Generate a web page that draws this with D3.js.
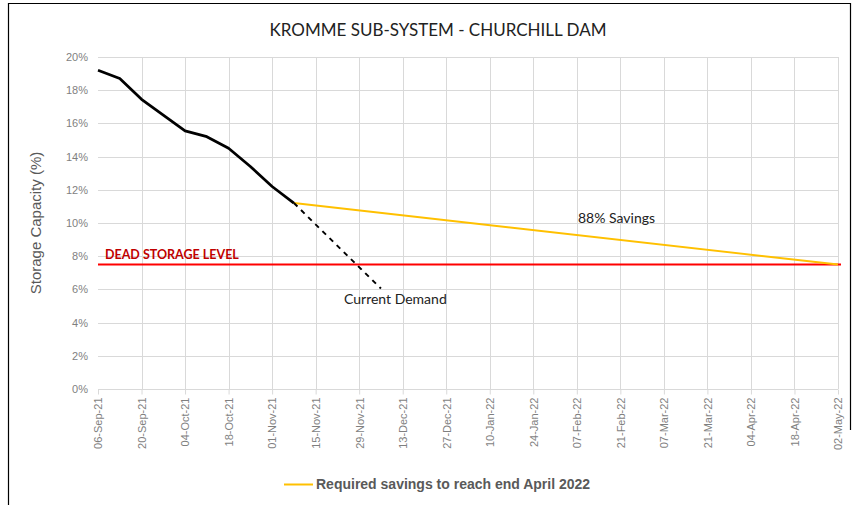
<!DOCTYPE html>
<html>
<head>
<meta charset="utf-8">
<script src="https://cdn.jsdelivr.net/npm/d3@7"></script>
<style>
body { margin: 0; background: #fff; }
svg { display: block; }
</style>
</head>
<body>
<svg></svg>
<script>

const parse = d3.utcParse('%Y-%m-%d')

// actual storage levels (weekly)
const actualDates = ['2021-09-06', '2021-09-13', '2021-09-20', '2021-09-27', '2021-10-04', '2021-10-11',
	'2021-10-18', '2021-10-25', '2021-11-01', '2021-11-08']
const actualValues = [19.2, 18.7, 17.45, 16.5, 15.55, 15.2, 14.5, 13.4, 12.2, 11.2]

// projection at current demand
const demandDates = ['2021-11-08', '2021-12-06']
const demandValues = [11.2, 6.05]

// required savings projection
const savingsDates = ['2021-11-08', '2022-05-02']
const savingsValues = [11.2, 7.5]

const deadStorage = 7.5

const yTicks = [0, 2, 4, 6, 8, 10, 12, 14, 16, 18, 20]
const xStart = '2021-09-06', xEnd = '2022-05-02'

const zip = (ds, vs) => ds.map((d, i) => [parse(d), vs[i]])

let width = 856, height = 505
let mLeft = 98, mRight = 838, mTop = 57, mBottom = 389

let svg = d3.select('svg')
	.attr('width', width)
	.attr('height', height)

// frame
svg.append('path')
	.attr('d', `M8.5,${height} V3.5 H850.5 V430`)
	.attr('fill', 'none')
	.attr('stroke', '#000')
	.attr('stroke-width', 1.2)

let scX = d3.scaleUtc()
	.domain([parse(xStart), parse(xEnd)])
	.range([mLeft, mRight])

let scY = d3.scaleLinear()
	.domain([0, 20])
	.range([mBottom, mTop])

let xTickDates = d3.utcDays(parse(xStart), d3.utcDay.offset(parse(xEnd), 1), 14)

// grid
let grid = svg.append('g')
grid.selectAll('line.h')
	.data(yTicks.filter(d => d > 0)).enter().append('line')
	.attr('x1', mLeft).attr('x2', mRight)
	.attr('y1', d => Math.round(scY(d)) + 0.5).attr('y2', d => Math.round(scY(d)) + 0.5)
	.attr('stroke', '#d9d9d9')
grid.selectAll('line.v')
	.data(xTickDates.slice(1)).enter().append('line')
	.attr('x1', d => Math.round(scX(d)) + 0.5).attr('x2', d => Math.round(scX(d)) + 0.5)
	.attr('y1', mTop).attr('y2', mBottom)
	.attr('stroke', '#d9d9d9')

// y axis
let axY = d3.axisLeft(scY).tickValues(yTicks).tickSize(0).tickPadding(10).tickFormat(d => d + '%')
svg.append('g')
	.attr('transform', `translate(${mLeft}, 0)`)
	.call(axY)
	.call(g => g.select('.domain').remove())
	.selectAll('text')
	.attr('fill', '#7f7f7f')
	.style('font', '11px "Liberation Sans", Arial, sans-serif')

// x axis
let axX = d3.axisBottom(scX).tickValues(xTickDates).tickSize(5).tickPadding(4)
	.tickFormat(d3.utcFormat('%d-%b-%y'))
svg.append('g')
	.attr('transform', `translate(0, ${Math.round(mBottom) + 0.5})`)
	.call(axX)
	.call(g => g.select('.domain').attr('stroke', '#d9d9d9').attr('d', `M${mLeft},0H${mRight}`))
	.call(g => g.selectAll('.tick line').attr('stroke', '#d9d9d9'))
	.selectAll('text')
	.attr('fill', '#7f7f7f')
	.style('font', '11px "Liberation Sans", Arial, sans-serif')
	.attr('text-anchor', 'end')
	.attr('transform', 'rotate(-90)')
	.attr('x', -8)
	.attr('y', 0)
	.attr('dy', '0.35em')

// y label
svg.append('text')
	.attr('transform', `translate(41, ${(mTop + mBottom) / 2}) rotate(-90)`)
	.attr('text-anchor', 'middle')
	.attr('fill', '#595959')
	.style('font', '15px "Liberation Sans", Arial, sans-serif')
	.text('Storage Capacity (%)')

// title
svg.append('text')
	.attr('x', 438).attr('y', 36)
	.attr('text-anchor', 'middle')
	.attr('fill', '#222')
	.style('font', '17px Lato, "Open Sans", sans-serif')
	.text('KROMME SUB-SYSTEM - CHURCHILL DAM')

let line = d3.line().x(d => scX(d[0])).y(d => scY(d[1]))

// dead storage
svg.append('line')
	.attr('x1', mLeft).attr('x2', mRight + 3)
	.attr('y1', scY(deadStorage)).attr('y2', scY(deadStorage))
	.attr('stroke', '#ff0000')
	.attr('stroke-width', 2)

svg.append('path')
	.datum(zip(savingsDates, savingsValues))
	.attr('d', line)
	.attr('fill', 'none')
	.attr('stroke', '#ffc000')
	.attr('stroke-width', 2)

svg.append('path')
	.datum(zip(demandDates, demandValues))
	.attr('d', line)
	.attr('fill', 'none')
	.attr('stroke', '#000')
	.attr('stroke-width', 2)
	.attr('stroke-dasharray', '5,5')

svg.append('path')
	.datum(zip(actualDates, actualValues))
	.attr('d', line)
	.attr('fill', 'none')
	.attr('stroke', '#000')
	.attr('stroke-width', 2.75)
	.attr('stroke-linejoin', 'round')

// annotations
svg.append('text')
	.attr('x', 105).attr('y', scY(deadStorage) - 6)
	.attr('fill', '#c00000')
	.style('font', 'bold 12.5px Lato, "Open Sans", sans-serif')
	.text('DEAD STORAGE LEVEL')

svg.append('text')
	.attr('x', 578).attr('y', 223)
	.attr('fill', '#222')
	.style('font', '14px Lato, "Open Sans", sans-serif')
	.text('88% Savings')

svg.append('text')
	.attr('x', 344).attr('y', 304)
	.attr('fill', '#222')
	.style('font', '14px Lato, "Open Sans", sans-serif')
	.text('Current Demand')

// legend
svg.append('line')
	.attr('x1', 284).attr('x2', 313)
	.attr('y1', 484.5).attr('y2', 484.5)
	.attr('stroke', '#ffc000')
	.attr('stroke-width', 2)
svg.append('text')
	.attr('x', 316).attr('y', 489)
	.attr('fill', '#595959')
	.style('font', 'bold 14px "Liberation Sans", Arial, sans-serif')
	.text('Required savings to reach end April 2022')

</script>
</body>
</html>
